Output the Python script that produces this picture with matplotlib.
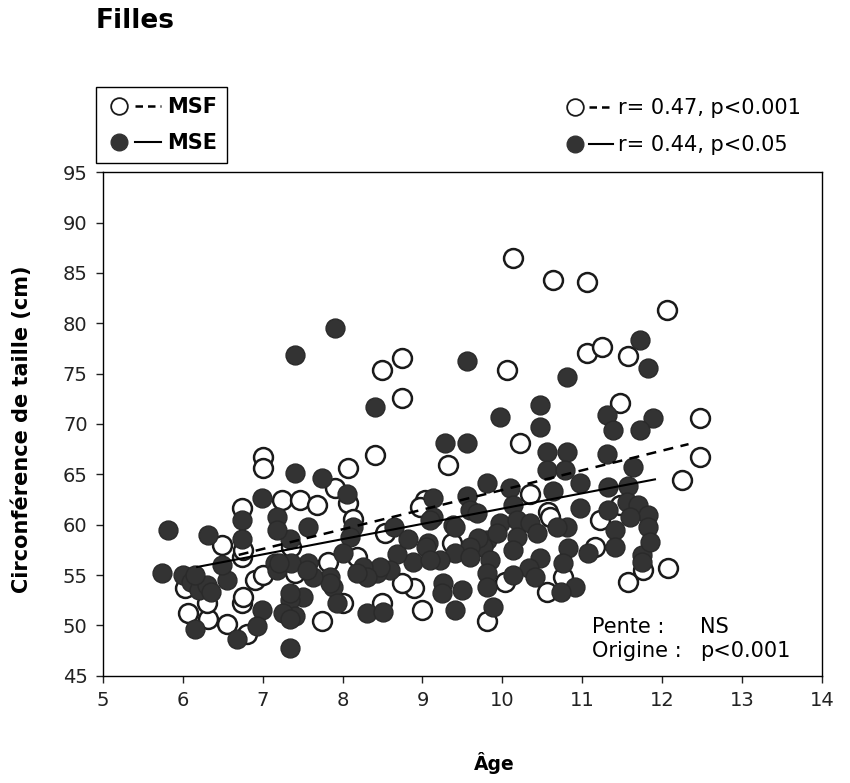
#!/usr/bin/env python3
"""Tour de taille selon l'âge chez les filles, MSF vs MSE."""

import matplotlib
matplotlib.use("Agg")
import matplotlib.pyplot as plt
from matplotlib.lines import Line2D
from matplotlib.legend_handler import HandlerTuple

# MSF (cercles vides)
msf_age = [10.13, 10.63, 11.06, 12.06, 11.06, 11.25, 11.57, 8.74, 8.49, 10.06,
           8.74, 11.47, 12.47, 10.22, 8.40, 7.00, 7.00, 8.07, 9.32, 12.47,
           12.25, 7.90, 8.07, 7.24, 7.47, 7.68, 6.74, 9.03, 8.97, 10.34,
           10.57, 11.22, 8.13, 6.49, 6.74, 7.82, 8.53, 9.37, 8.18, 11.16,
           7.40, 6.90, 6.03, 6.07, 6.31, 6.56, 6.74, 6.75, 6.30, 6.80,
           7.74, 8.00, 8.49, 8.99, 8.90, 8.74, 9.81, 10.03, 10.56, 10.76,
           11.57, 11.76, 12.07, 11.47, 6.75, 7.00, 7.35, 10.60]
msf_cm = [86.5, 84.3, 84.1, 81.3, 77.1, 77.6, 76.8, 76.6, 75.4, 75.4,
          72.6, 72.1, 70.6, 68.1, 66.9, 66.7, 65.6, 65.6, 65.9, 66.7,
          64.4, 63.6, 62.2, 62.5, 62.5, 62.0, 61.7, 62.5, 61.8, 63.0,
          61.3, 60.5, 60.6, 58.0, 56.8, 56.3, 59.2, 58.2, 56.8, 57.8,
          55.2, 54.5, 53.7, 51.2, 50.6, 50.1, 52.2, 52.8, 52.2, 49.1,
          50.4, 52.2, 52.2, 51.5, 53.7, 54.2, 50.4, 54.3, 53.3, 54.8,
          54.3, 55.5, 55.7, 62.0, 57.5, 55.0, 57.8, 60.8]

# MSE (cercles pleins)
mse_age = [7.90, 7.40, 9.56, 11.72, 11.82, 10.81, 8.40, 10.47, 9.97, 11.31,
           11.38, 11.88, 11.72, 10.47, 9.28, 9.56, 10.56, 10.81, 11.31, 11.63,
           10.56, 10.78, 7.40, 7.74, 9.81, 10.10, 10.63, 10.97, 11.32, 11.57,
           10.13, 9.13, 9.56, 6.99, 10.97, 11.32, 11.56, 11.70, 11.82, 11.82,
           11.60, 11.41, 11.41, 10.81, 10.82, 11.07, 11.75, 11.75, 10.91, 10.76,
           10.74, 10.47, 10.33, 10.41, 10.13, 9.97, 10.18, 10.34, 10.43, 10.18,
           10.13, 10.68, 9.81, 9.76, 9.84, 9.81, 9.81, 9.88, 9.59, 9.68,
           9.13, 9.09, 9.38, 9.41, 9.07, 9.69, 9.93, 9.59, 9.41, 9.22,
           9.05, 8.88, 8.68, 8.59, 8.43, 8.47, 8.25, 8.30, 8.30, 8.50,
           9.41, 9.49, 9.26, 9.24, 9.09, 9.59, 8.65, 8.82, 8.13, 8.09,
           8.00, 8.18, 7.84, 7.88, 7.84, 7.93, 7.63, 7.57, 7.57, 7.34,
           7.18, 7.18, 7.15, 7.18, 7.36, 7.55, 7.20, 7.50, 7.34, 7.34,
           7.40, 7.25, 7.34, 7.34, 6.99, 6.93, 6.68, 6.15, 6.74, 6.74,
           6.56, 6.49, 6.31, 5.81, 5.74, 6.00, 6.10, 6.20, 6.30, 6.15,
           6.35, 11.85, 8.05]
mse_cm = [79.5, 76.9, 76.3, 78.3, 75.6, 74.7, 71.7, 71.9, 70.7, 70.9,
          69.4, 70.6, 69.4, 69.7, 68.1, 68.1, 67.2, 67.2, 67.0, 65.7,
          65.4, 65.4, 65.1, 64.6, 64.1, 63.6, 63.3, 64.1, 63.7, 63.8,
          62.0, 62.7, 62.8, 62.7, 61.7, 61.5, 62.3, 62.0, 61.0, 59.8,
          60.8, 59.5, 57.8, 59.8, 57.7, 57.2, 57.0, 56.3, 53.8, 56.2,
          53.3, 56.7, 55.7, 54.8, 55.0, 60.2, 60.5, 60.2, 59.2, 58.8,
          57.5, 59.8, 58.5, 57.8, 56.5, 55.2, 53.8, 51.8, 61.5, 61.2,
          60.8, 60.5, 60.0, 59.8, 58.2, 58.7, 59.2, 57.8, 57.2, 56.5,
          57.8, 56.3, 57.1, 55.5, 55.2, 55.8, 55.8, 54.8, 51.2, 51.3,
          51.5, 53.5, 54.2, 53.2, 56.5, 56.8, 59.8, 58.6, 59.8, 58.8,
          57.2, 55.2, 54.8, 53.8, 54.2, 52.2, 54.8, 56.2, 59.8, 58.6,
          60.8, 59.5, 56.2, 55.5, 56.2, 55.5, 56.2, 52.8, 52.5, 53.2,
          50.9, 51.2, 50.6, 47.8, 51.5, 49.9, 48.6, 49.6, 60.5, 58.6,
          54.5, 56.0, 59.0, 59.5, 55.2, 55.0, 54.3, 53.5, 54.0, 55.0,
          53.3, 58.3, 63.0]

# droites de régression (extrémités)
msf_fit_age = [6.70, 12.33]
msf_fit_cm = [57.0, 68.0]
mse_fit_age = [6.18, 11.91]
mse_fit_cm = [55.8, 64.5]

x_ticks = list(range(5, 15))
y_ticks = list(range(45, 100, 5))

FILL = "#333333"
MS = 13.6


def main():
    fig = plt.figure(figsize=(8.5, 7.83), dpi=100)
    ax = fig.add_axes([0.121, 0.137, 0.846, 0.643])

    ax.scatter(msf_age, msf_cm, s=MS ** 2, facecolor="white",
               edgecolor="#1a1a1a", linewidth=1.8, zorder=2)
    ax.scatter(mse_age, mse_cm, s=MS ** 2, facecolor=FILL,
               edgecolor="#2a2a2a", linewidth=1.0, zorder=3)
    ax.plot(msf_fit_age, msf_fit_cm, color="black", linestyle=(0, (4, 3)),
            linewidth=1.8, zorder=4)
    ax.plot(mse_fit_age, mse_fit_cm, color="black", linestyle="-",
            linewidth=1.5, zorder=4)

    ax.set_xlim(5, 14)
    ax.set_ylim(45, 95)
    ax.set_xticks(x_ticks)
    ax.set_yticks(y_ticks)
    ax.tick_params(direction="out", length=5, width=1, labelsize=14,
                   colors="#222222", pad=6)
    for sp in ax.spines.values():
        sp.set_linewidth(1.0)

    ax.set_xlabel("Âge", fontsize=13.5, fontweight="bold")
    ax.xaxis.set_label_coords(0.544, -0.152)
    ax.set_ylabel("Circonférence de taille (cm)", fontsize=15,
                  fontweight="bold")
    ax.yaxis.set_label_coords(-0.098, 0.49)

    ax.text(0.68, 0.085, "Pente :", transform=ax.transAxes, fontsize=15)
    ax.text(0.830, 0.085, "NS", transform=ax.transAxes, fontsize=15)
    ax.text(0.68, 0.038, "Origine :", transform=ax.transAxes, fontsize=15)
    ax.text(0.830, 0.038, "p<0.001", transform=ax.transAxes, fontsize=15)

    fig.text(0.113, 0.99, "Filles", fontsize=19, fontweight="bold",
             va="top")

    open_m = Line2D([], [], marker="o", linestyle="none", markersize=12,
                    markerfacecolor="white", markeredgecolor="#1a1a1a",
                    markeredgewidth=1.3)
    fill_m = Line2D([], [], marker="o", linestyle="none", markersize=12,
                    markerfacecolor=FILL, markeredgecolor=FILL)
    dash_l = Line2D([], [], color="black", linestyle=(0, (3, 2)), linewidth=1.8)
    solid_l = Line2D([], [], color="black", linewidth=1.5)

    leg1 = fig.legend([(open_m, dash_l), (fill_m, solid_l)], ["MSF", "MSE"],
                      handler_map={tuple: HandlerTuple(ndivide=None, pad=0.1)},
                      loc="upper left", bbox_to_anchor=(0.113, 0.889),
                      fancybox=False, edgecolor="black", framealpha=1,
                      prop={"weight": "bold", "size": 15}, handlelength=2.6,
                      handletextpad=0.3, borderpad=0.5, labelspacing=0.75,
                      borderaxespad=0)
    leg1.get_frame().set_linewidth(1.0)

    fig.legend([(open_m, dash_l), (fill_m, solid_l)],
               ["r= 0.47, p<0.001", "r= 0.44, p<0.05"],
               handler_map={tuple: HandlerTuple(ndivide=None, pad=0.1)},
               loc="upper left", bbox_to_anchor=(0.652, 0.885),
               frameon=False, prop={"size": 15}, handlelength=2.4,
               handletextpad=0.25, labelspacing=0.8, borderaxespad=0)

    fig.savefig("out.png", dpi=100)


if __name__ == "__main__":
    main()
